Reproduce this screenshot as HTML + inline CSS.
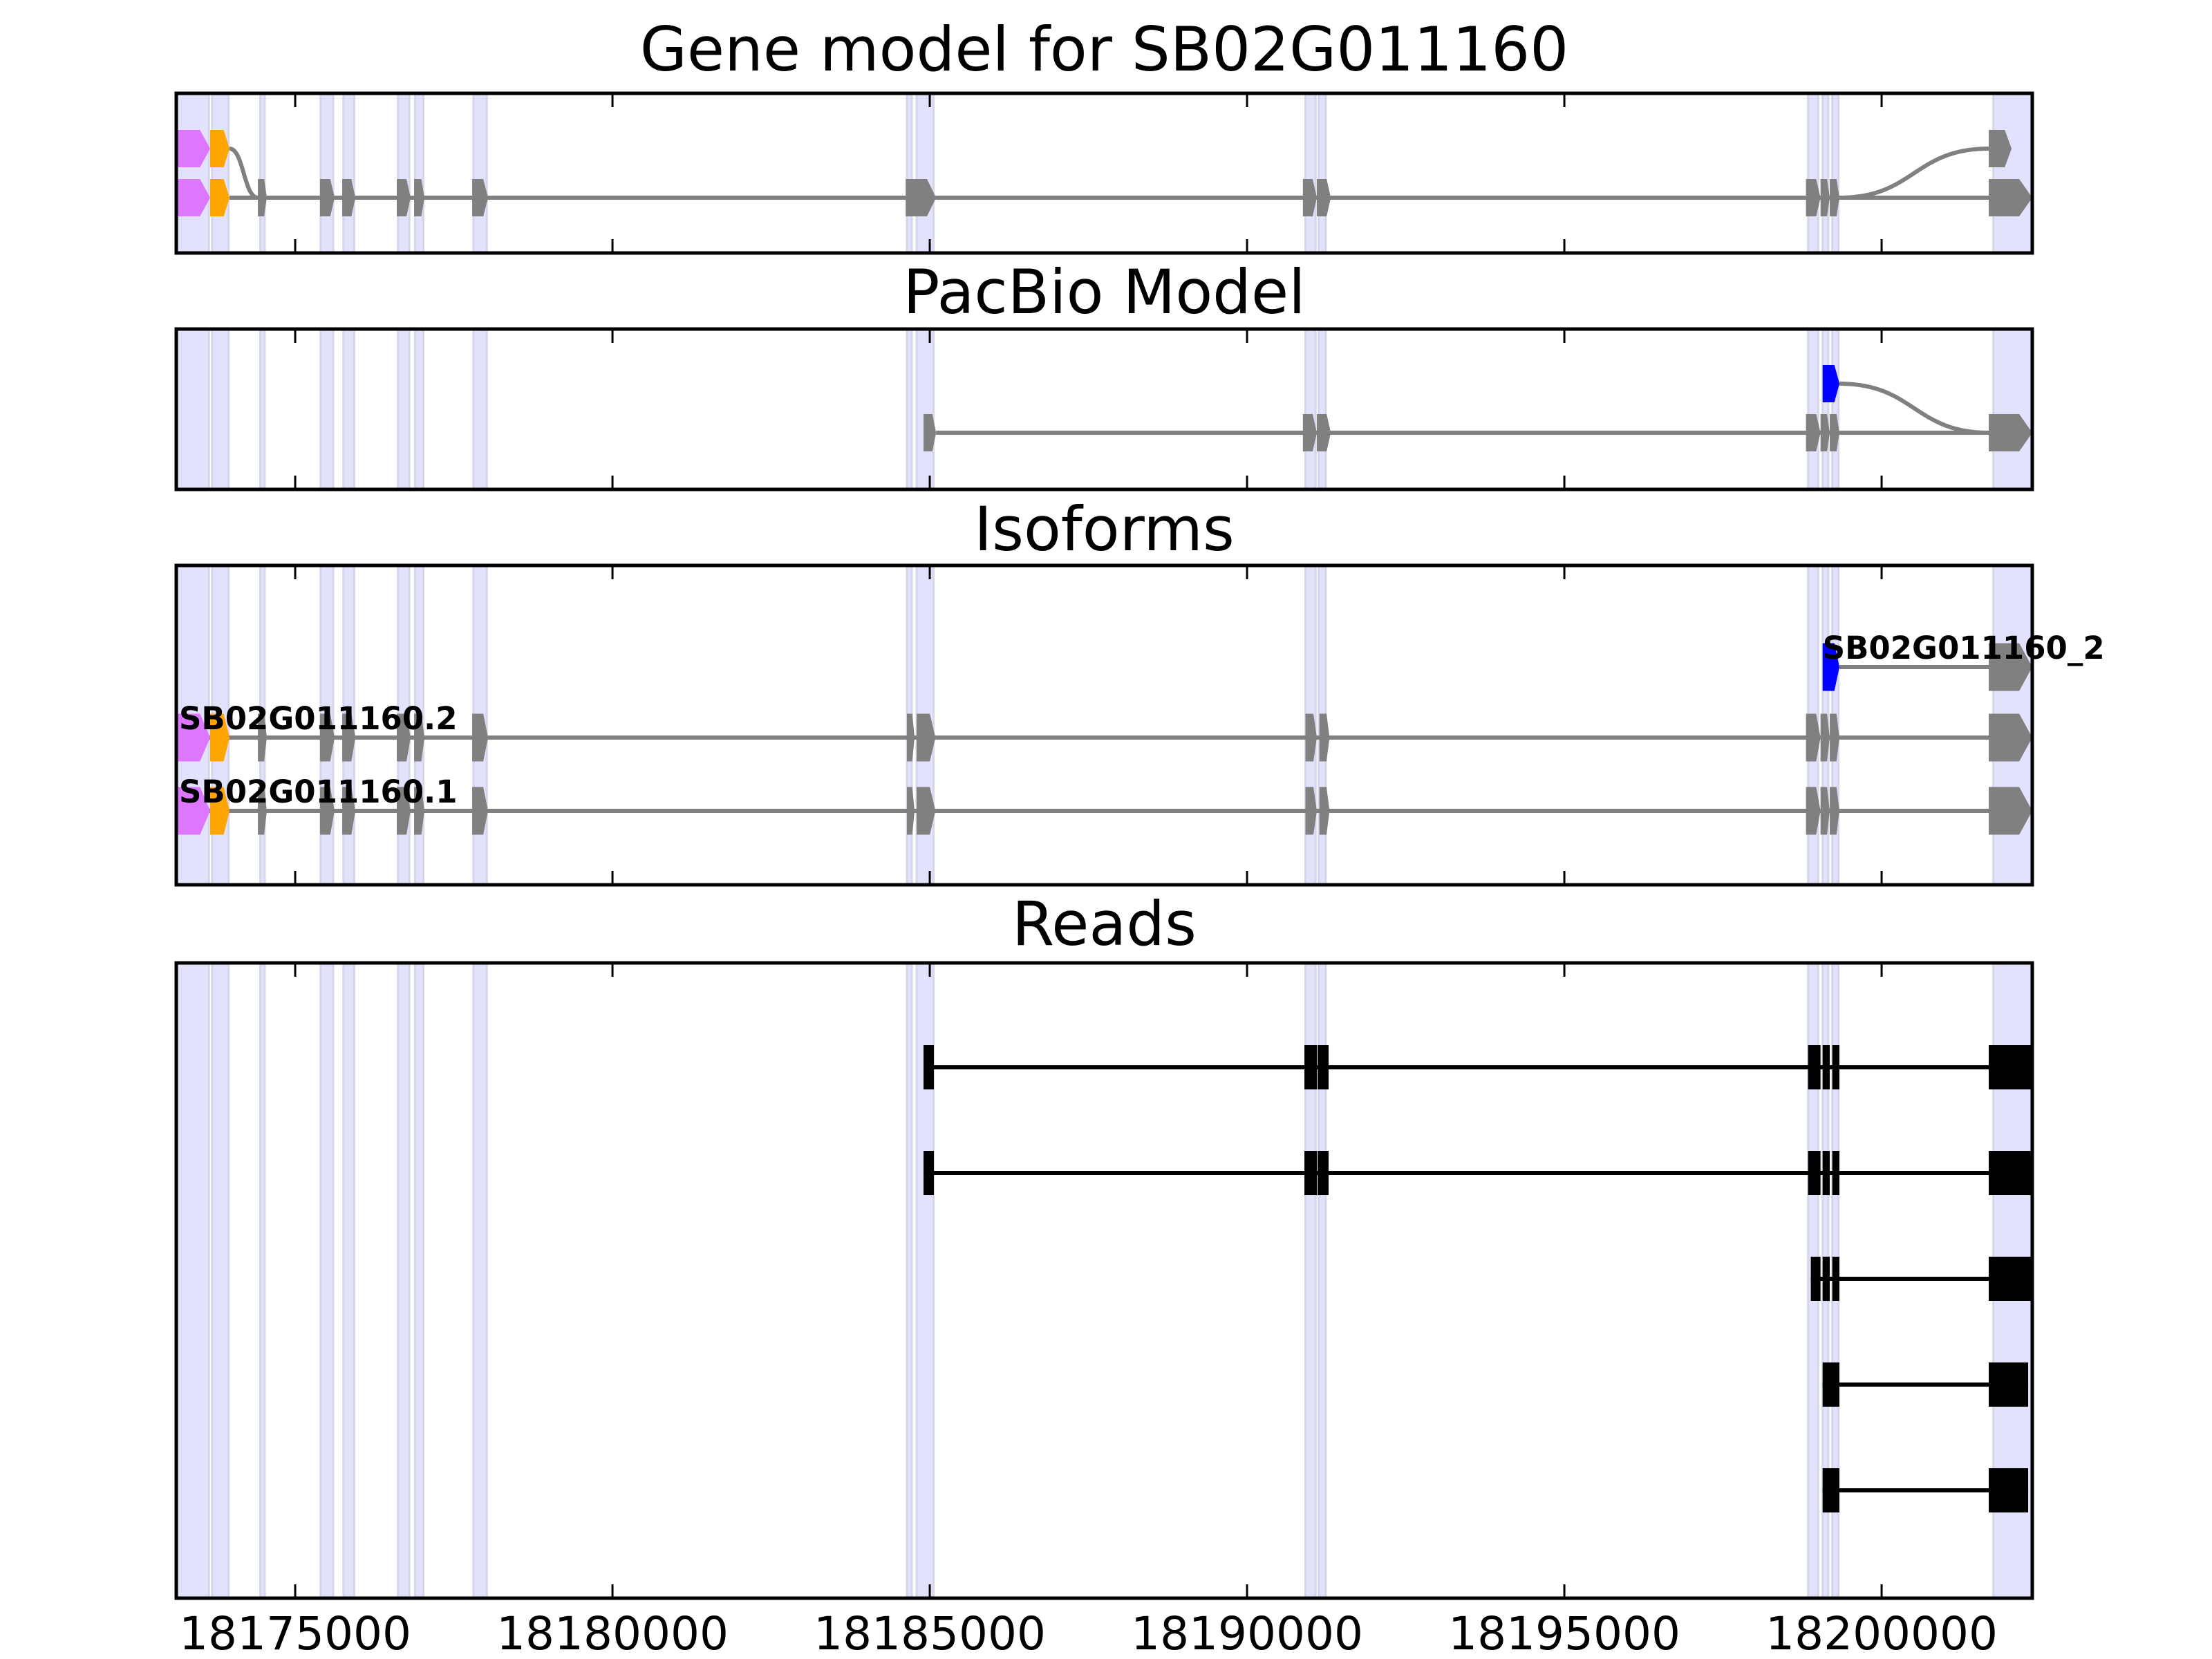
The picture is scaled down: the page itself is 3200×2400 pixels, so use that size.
<!DOCTYPE html>
<html><head><meta charset="utf-8">
<style>
html,body{margin:0;padding:0;background:#fff;}
svg{display:block;}
text{font-family:"DejaVu Sans","Liberation Sans",sans-serif;}
</style></head>
<body>
<svg id="fig" width="3200" height="2400" viewBox="0 0 3200 2400" xmlns="http://www.w3.org/2000/svg"></svg>
<script>
// ---- data ----
const xDomain = [18173126, 18202374];
const xTicks = [18175000, 18180000, 18185000, 18190000, 18195000, 18200000];
const xTickLabels = ["18175000","18180000","18185000","18190000","18195000","18200000"];
const bands = [[18173126,18173640],[18173690,18173950],[18174450,18174520],[18175400,18175600],[18175760,18175930],[18176620,18176800],[18176890,18177020],[18177810,18178020],[18184640,18184717],[18184793,18185060],[18190920,18191080],[18191130,18191240],[18198841,18199000],[18199070,18199160],[18199222,18199320],[18201760,18202374]];
const geneLower = [[18173126,18173660],[18173660,18173965],[18174412,18174553],[18175392,18175621],[18175741,18175948],[18176601,18176819],[18176874,18177037],[18177789,18178039],[18184620,18185100],[18190880,18191100],[18191100,18191320],[18198808,18199037],[18199037,18199183],[18199183,18199335],[18201688,18202374]];
const geneLowerColors = ["#dd77ff","#ffa500"];
const geneUpperLeft = [[18173126,18173660],[18173660,18173965]];
const geneUpperRight = [[18201688,18202048]];
const pacLower = [[18184902,18185100],[18190880,18191100],[18191100,18191320],[18198808,18199037],[18199037,18199183],[18199183,18199335],[18201688,18202374]];
const pacUpper = [[18199070,18199335]];
const isoTop = [[18199070,18199335],[18201688,18202374]];
const isoFull = [[18173126,18173660],[18173660,18173965],[18174412,18174553],[18175392,18175621],[18175741,18175948],[18176601,18176819],[18176874,18177037],[18177789,18178039],[18184640,18184760],[18184793,18185090],[18190920,18191100],[18191140,18191300],[18198808,18199037],[18199037,18199183],[18199183,18199335],[18201688,18202374]];
const isoLabels = ["SB02G011160_2","SB02G011160.2","SB02G011160.1"];
const reads = [
 [[18184902,18185065],[18190904,18191100],[18191111,18191285],[18198841,18199037],[18199070,18199183],[18199222,18199335],[18201688,18202374]],
 [[18184902,18185065],[18190904,18191100],[18191111,18191285],[18198841,18199037],[18199070,18199183],[18199222,18199335],[18201688,18202374]],
 [[18198884,18199037],[18199070,18199183],[18199222,18199335],[18201688,18202374]],
 [[18199070,18199335],[18201688,18202309]],
 [[18199070,18199335],[18201688,18202309]]
];
const panelTitles = ["Gene model for SB02G011160","PacBio Model","Isoforms","Reads"];

// ---- layout ----
const AX_L = 255, AX_R = 2940;
const panels = [{t:135,b:366,ty:102},{t:476,b:708,ty:453},{t:818,b:1280,ty:796},{t:1393,b:2312,ty:1367}];
const svg = document.getElementById('fig');
const NS = "http://www.w3.org/2000/svg";
function X(v){ return AX_L + (v - xDomain[0]) / (xDomain[1]-xDomain[0]) * (AX_R-AX_L); }
function el(tag, attrs, parent){ const e=document.createElementNS(NS,tag); for(const k in attrs) e.setAttribute(k,attrs[k]); (parent||svg).appendChild(e); return e; }
function exonPoly(s,e,cy,h,fill,parent,name){
  const x0=X(s), x1=X(e), w=x1-x0, tip=Math.min(25,w*0.3), t=cy-h/2, b=cy+h/2;
  const p = el('polygon',{points:`${x0},${t} ${x1-tip},${t} ${x1},${cy} ${x1-tip},${b} ${x0},${b}`,fill:fill},parent);
  
  
  return p;
}
function line(x0,x1,y,color,w,parent){
  const l = el('line',{x1:x0,x2:x1,y1:y,y2:y,stroke:color,'stroke-width':w},parent);
  
  
}
function curve(xa,ya,xb,yb,parent){
  const mx=(xa+xb)/2;
  const c = el('path',{d:`M${xa},${ya} C${mx},${ya} ${mx},${yb} ${xb},${yb}`,fill:'none',stroke:'#808080','stroke-width':6},parent);
  
  
}

panels.forEach((p,i)=>{
  const g = el('g',{});
  
  
  bands.forEach(bd=>{
    const r = el('rect',{x:X(bd[0]),y:p.t,width:X(bd[1])-X(bd[0]),height:p.b-p.t,fill:'#e2e2fc',stroke:'#d6d6ea','stroke-width':3},g);
    
    
  });
  const tt = el('text',{x:(AX_L+AX_R)/2,y:p.ty,'font-size':88,'text-anchor':'middle',fill:'#000'});
  tt.textContent = panelTitles[i];
  
  
  p.g = g;
});

// panel 1: gene model
(function(){
  const g = panels[0].g, yU=215, yL=286, h=54;
  const lo = geneLower;
  line(X(lo[1][1]), X(lo[lo.length-1][0]), yL, '#808080', 6, g);
  curve(X(geneUpperLeft[1][1]), yU, X(lo[2][0]), yL, g);
  curve(X(lo[13][1]), yL, X(geneUpperRight[0][0]), yU, g);
  lo.forEach((e,k)=>exonPoly(e[0],e[1],yL,h,geneLowerColors[k]||'#808080',g,'gene-exon'));
  geneUpperLeft.forEach((e,k)=>exonPoly(e[0],e[1],yU,h,geneLowerColors[k],g,'gene-alt-exon'));
  geneUpperRight.forEach(e=>exonPoly(e[0],e[1],yU,h,'#808080',g,'gene-alt-exon'));
})();

// panel 2: pacbio
(function(){
  const g = panels[1].g, yU=555, yL=626, h=54;
  line(X(pacLower[0][1]), X(pacLower[pacLower.length-1][0]), yL, '#808080', 6, g);
  curve(X(pacUpper[0][1]), yU, X(pacLower[pacLower.length-1][0]), yL, g);
  pacLower.forEach(e=>exonPoly(e[0],e[1],yL,h,'#808080',g,'pacbio-exon'));
  pacUpper.forEach(e=>exonPoly(e[0],e[1],yU,h,'#0000ff',g,'pacbio-alt-exon'));
})();

// panel 3: isoforms
(function(){
  const g = panels[2].g, ys=[965,1067,1173], h=69;
  line(X(isoTop[0][1]), X(isoTop[1][0]), ys[0], '#808080', 6, g);
  exonPoly(isoTop[0][0],isoTop[0][1],ys[0],h,'#0000ff',g,'isoform-exon');
  exonPoly(isoTop[1][0],isoTop[1][1],ys[0],h,'#808080',g,'isoform-exon');
  [1,2].forEach(r=>{
    line(X(isoFull[0][1])-20, X(isoFull[isoFull.length-1][0]), ys[r], '#808080', 6, g);
    isoFull.forEach((e,k)=>exonPoly(e[0],e[1],ys[r],h,geneLowerColors[k]||'#808080',g,'isoform-exon'));
  });
  const lx=[X(isoTop[0][0]), AX_L+4, AX_L+4];
  ys.forEach((y,r)=>{
    const t = el('text',{x:lx[r],y:y-12,'font-size':45,'font-weight':'bold',fill:'#000'},g);
    t.textContent = isoLabels[r];
    
    
  });
})();

// panel 4: reads
(function(){
  const g = panels[3].g, ys=[1544,1697,1850,2003,2156], h=64;
  reads.forEach((rd,r)=>{
    line(X(rd[0][0]), X(rd[rd.length-1][1]), ys[r], '#000', 6, g);
    rd.forEach(e=>{
      const b = el('rect',{x:X(e[0]),y:ys[r]-h/2,width:X(e[1])-X(e[0]),height:h,fill:'#000'},g);
      
      
    });
  });
})();

// frames + ticks
panels.forEach((p,i)=>{
  const f = el('rect',{x:AX_L,y:p.t,width:AX_R-AX_L,height:p.b-p.t,fill:'none',stroke:'#000','stroke-width':5});
  
  
  xTicks.forEach(v=>{
    const x=X(v);
    const t1 = el('line',{x1:x,x2:x,y1:p.t,y2:p.t+20,stroke:'#000','stroke-width':3});
    
    
    const t2 = el('line',{x1:x,x2:x,y1:p.b,y2:p.b-20,stroke:'#000','stroke-width':3});
    
    
  });
});
xTicks.forEach((v,k)=>{
  const t = el('text',{x:X(v),y:2386,'font-size':66,'text-anchor':'middle',fill:'#000'});
  t.textContent = xTickLabels[k];
  
  
});
</script>
</body></html>
